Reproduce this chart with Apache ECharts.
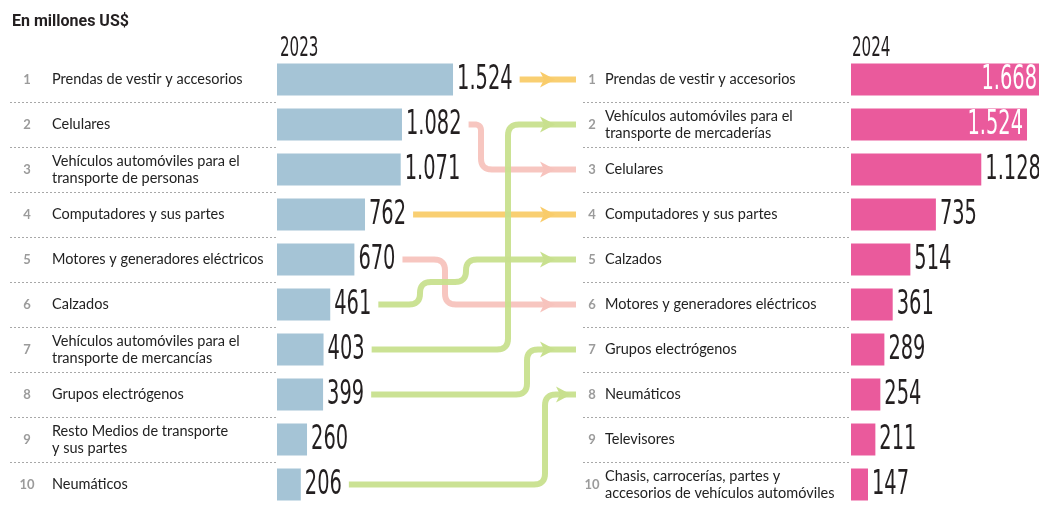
<!DOCTYPE html>
<html>
<head>
<meta charset="utf-8">
<script src="https://cdn.jsdelivr.net/npm/echarts@6/dist/echarts.min.js"></script>
<style>
  html, body { margin: 0; padding: 0; background: #fff; }
  #chart { width: 1039px; height: 512px; }
</style>
</head>
<body>
<div id="chart"></div>
<script>
// ---- data ----
const RANKS = ["1", "2", "3", "4", "5", "6", "7", "8", "9", "10"];
const NAMES_2023 = [
  "Prendas de vestir y accesorios",
  "Celulares",
  "Vehículos automóviles para el\ntransporte de personas",
  "Computadores y sus partes",
  "Motores y generadores eléctricos",
  "Calzados",
  "Vehículos automóviles para el\ntransporte de mercancías",
  "Grupos electrógenos",
  "Resto Medios de transporte\ny sus partes",
  "Neumáticos",
];
const VALUES_2023 = [1524, 1082, 1071, 762, 670, 461, 403, 399, 260, 206];
const NAMES_2024 = [
  "Prendas de vestir y accesorios",
  "Vehículos automóviles para el\ntransporte de mercaderías",
  "Celulares",
  "Computadores y sus partes",
  "Calzados",
  "Motores y generadores eléctricos",
  "Grupos electrógenos",
  "Neumáticos",
  "Televisores",
  "Chasis, carrocerías, partes y\naccesorios de vehículos automóviles",
];
const VALUES_2024 = [1668, 1524, 1128, 735, 514, 361, 289, 254, 211, 147];
// 2024 rank of each 2023 item (null = dropped out of the top 10)
const RANK_2024_OF_2023 = [1, 3, null, 4, 6, 5, 2, 7, null, 8];

// ---- layout ----
const CHART_W = 1039;
const TOP = 57, ROWS_H = 450;
const LEFT_LABELS = 10, LABELS_W = 266;
const LEFT_BARS = 277, RIGHT_LABELS = 583, RIGHT_BARS = 851;
const BARS_W = 231, X_MAX = 2000;
// the right panel runs off the page edge: keep the same px-per-unit scale
const RIGHT_W = CHART_W - RIGHT_BARS;
const RIGHT_MAX = X_MAX * RIGHT_W / BARS_W;
// x of the vertical legs of each connector, by 2023 row
const CONNECTOR_BENDS = [[], [481], null, [], [445], [420, 466], [508], [527], null, [545]];

const NUM_FONT = '27px "DejaVu Sans Condensed", "Liberation Sans Narrow", sans-serif';
const NUM_SCALE_X = 0.8, NUM_SCALE_Y = 1.25;
const YEAR_FONT = '21px "DejaVu Sans Condensed", sans-serif';
const TEXT_FONT = "Lato, Roboto, sans-serif";

const fmt = (v) => String(v).replace(/\B(?=(\d{3})+(?!\d))/g, ".");
const measureCtx = document.createElement("canvas").getContext("2d");
measureCtx.font = NUM_FONT;
const textW = (t) => measureCtx.measureText(t).width * NUM_SCALE_X;

const colorFor = (from, to) => (to === from ? "#f9cc6a" : to > from ? "#f7c3bd" : "#c8e08e");

function valueLabel(insideMin) {
  return (params, api) => {
    const v = api.value(0);
    const p = api.coord([v, api.value(1)]);
    const inside = v >= insideMin;
    return {
      type: "text",
      x: inside ? Math.min(p[0], CHART_W + 2) - 4 : p[0] + 4,
      y: p[1] + 1,
      scaleX: NUM_SCALE_X,
      scaleY: NUM_SCALE_Y,
      z2: 10,
      style: {
        text: fmt(v),
        font: NUM_FONT,
        fill: inside ? "#ffffff" : "#231f20",
        align: inside ? "right" : "left",
        verticalAlign: "middle",
      },
    };
  };
}

function roundedPoints(pts, r) {
  const out = [pts[0]];
  for (let i = 1; i < pts.length - 1; i++) {
    const [px, py] = pts[i - 1], [cx, cy] = pts[i], [nx, ny] = pts[i + 1];
    const l1 = Math.hypot(cx - px, cy - py), l2 = Math.hypot(nx - cx, ny - cy);
    const rr = Math.min(r, l1 / 2, l2 / 2);
    const a = [cx + (px - cx) / l1 * rr, cy + (py - cy) / l1 * rr];
    const b = [cx + (nx - cx) / l2 * rr, cy + (ny - cy) / l2 * rr];
    for (let k = 0; k <= 8; k++) {
      const t = k / 8, u = 1 - t;
      out.push([u * u * a[0] + 2 * u * t * cx + t * t * b[0], u * u * a[1] + 2 * u * t * cy + t * t * b[1]]);
    }
  }
  out.push(pts[pts.length - 1]);
  return out;
}

function connector(params, api) {
  const v = api.value(0), from = api.value(1), to = api.value(2);
  const s = api.coord([v, from]);
  const yEnd = api.coord([0, to])[1];
  const x0 = s[0] + 4 + textW(fmt(v)) + 7;
  const xEnd = RIGHT_LABELS - 7;
  const bends = CONNECTOR_BENDS[from] || [];
  const pts = [[x0, s[1]]];
  bends.forEach((bx, i) => {
    const ya = s[1] + (yEnd - s[1]) * i / bends.length;
    const yb = s[1] + (yEnd - s[1]) * (i + 1) / bends.length;
    pts.push([bx, ya], [bx, yb]);
  });
  pts.push([xEnd, yEnd]);
  const color = colorFor(from, to);
  const tip = Math.max(555, (bends[bends.length - 1] || 0) + 26);
  return {
    type: "group",
    children: [
      {
        type: "polyline",
        shape: { points: roundedPoints(pts, 11) },
        style: { fill: null, stroke: color, lineWidth: 6, lineJoin: "round", opacity: 0.95 },
      },
      {
        type: "polygon",
        shape: { points: [[tip, yEnd], [tip - 15, yEnd - 8], [tip - 11, yEnd], [tip - 15, yEnd + 8]] },
        style: { fill: color },
      },
    ],
  };
}

const chart = echarts.init(document.getElementById("chart"), null, { renderer: "canvas" });

const labelYAxes = (grid, names, nameMargin, rankMargin) => [
  {
    gridIndex: grid, type: "category", inverse: true, data: names,
    axisLine: { show: false }, axisTick: { show: false },
    axisLabel: {
      inside: true, margin: nameMargin, align: "left",
      fontFamily: TEXT_FONT, fontSize: 14.5, lineHeight: 17, color: "#222222",
    },
    splitLine: {
      show: true, showMinLine: false, showMaxLine: false,
      lineStyle: { color: "#a8a8a8", type: [2, 2], width: 1 },
    },
  },
  {
    gridIndex: grid, type: "category", inverse: true, data: RANKS, position: "left",
    axisLine: { show: false }, axisTick: { show: false }, splitLine: { show: false },
    axisLabel: {
      inside: true, margin: rankMargin, align: "center",
      fontFamily: TEXT_FONT, fontSize: 13, fontWeight: "bold", color: "#9b9b9b",
    },
  },
];

const barYAxis = (grid, names) => ({
  gridIndex: grid, type: "category", inverse: true, data: names, show: false,
});

const yearText = (x, text) => ({
  type: "text", x, y: 49, scaleX: NUM_SCALE_X, scaleY: NUM_SCALE_Y,
  style: { text, font: YEAR_FONT, fill: "#231f20", verticalAlign: "middle" },
});

chart.setOption({
  animation: false,
  title: {
    text: "En millones US$", left: 7, top: 9,
    textStyle: { fontFamily: "Roboto, sans-serif", fontSize: 16, fontWeight: "bold", color: "#231f20" },
  },
  graphic: [yearText(280, "2023"), yearText(852, "2024")],
  grid: [
    { left: LEFT_LABELS, width: LABELS_W, top: TOP, height: ROWS_H },
    { left: LEFT_BARS, width: BARS_W, top: TOP, height: ROWS_H },
    { left: RIGHT_LABELS, width: LABELS_W, top: TOP, height: ROWS_H },
    { left: RIGHT_BARS, width: RIGHT_W, top: TOP, height: ROWS_H },
  ],
  xAxis: [
    { gridIndex: 0, type: "value", min: 0, max: X_MAX, show: false },
    { gridIndex: 1, type: "value", min: 0, max: X_MAX, show: false },
    { gridIndex: 2, type: "value", min: 0, max: X_MAX, show: false },
    { gridIndex: 3, type: "value", min: 0, max: RIGHT_MAX, show: false },
  ],
  yAxis: [
    ...labelYAxes(0, NAMES_2023, 42, 17),
    barYAxis(1, NAMES_2023),
    ...labelYAxes(2, NAMES_2024, 22, 9),
    barYAxis(3, NAMES_2024),
  ],
  series: [
    {
      type: "bar", xAxisIndex: 1, yAxisIndex: 2, data: VALUES_2023, barWidth: 32,
      itemStyle: { color: "#a5c4d6" },
    },
    {
      type: "custom", xAxisIndex: 1, yAxisIndex: 2, renderItem: valueLabel(Infinity), z: 5,
      data: VALUES_2023.map((v, i) => [v, i]), encode: { x: 0, y: 1 },
    },
    {
      type: "custom", xAxisIndex: 1, yAxisIndex: 2, renderItem: connector, z: 1,
      data: VALUES_2023.map((v, i) => [v, i, RANK_2024_OF_2023[i] - 1])
        .filter((d, i) => RANK_2024_OF_2023[i] != null),
      encode: { x: 0, y: 1 },
    },
    {
      type: "bar", xAxisIndex: 3, yAxisIndex: 5, data: VALUES_2024, barWidth: 32,
      itemStyle: { color: "#ea5a9c" },
    },
    {
      type: "custom", xAxisIndex: 3, yAxisIndex: 5, renderItem: valueLabel(1500), z: 5,
      data: VALUES_2024.map((v, i) => [v, i]), encode: { x: 0, y: 1 },
    },
  ],
});
</script>
</body>
</html>
